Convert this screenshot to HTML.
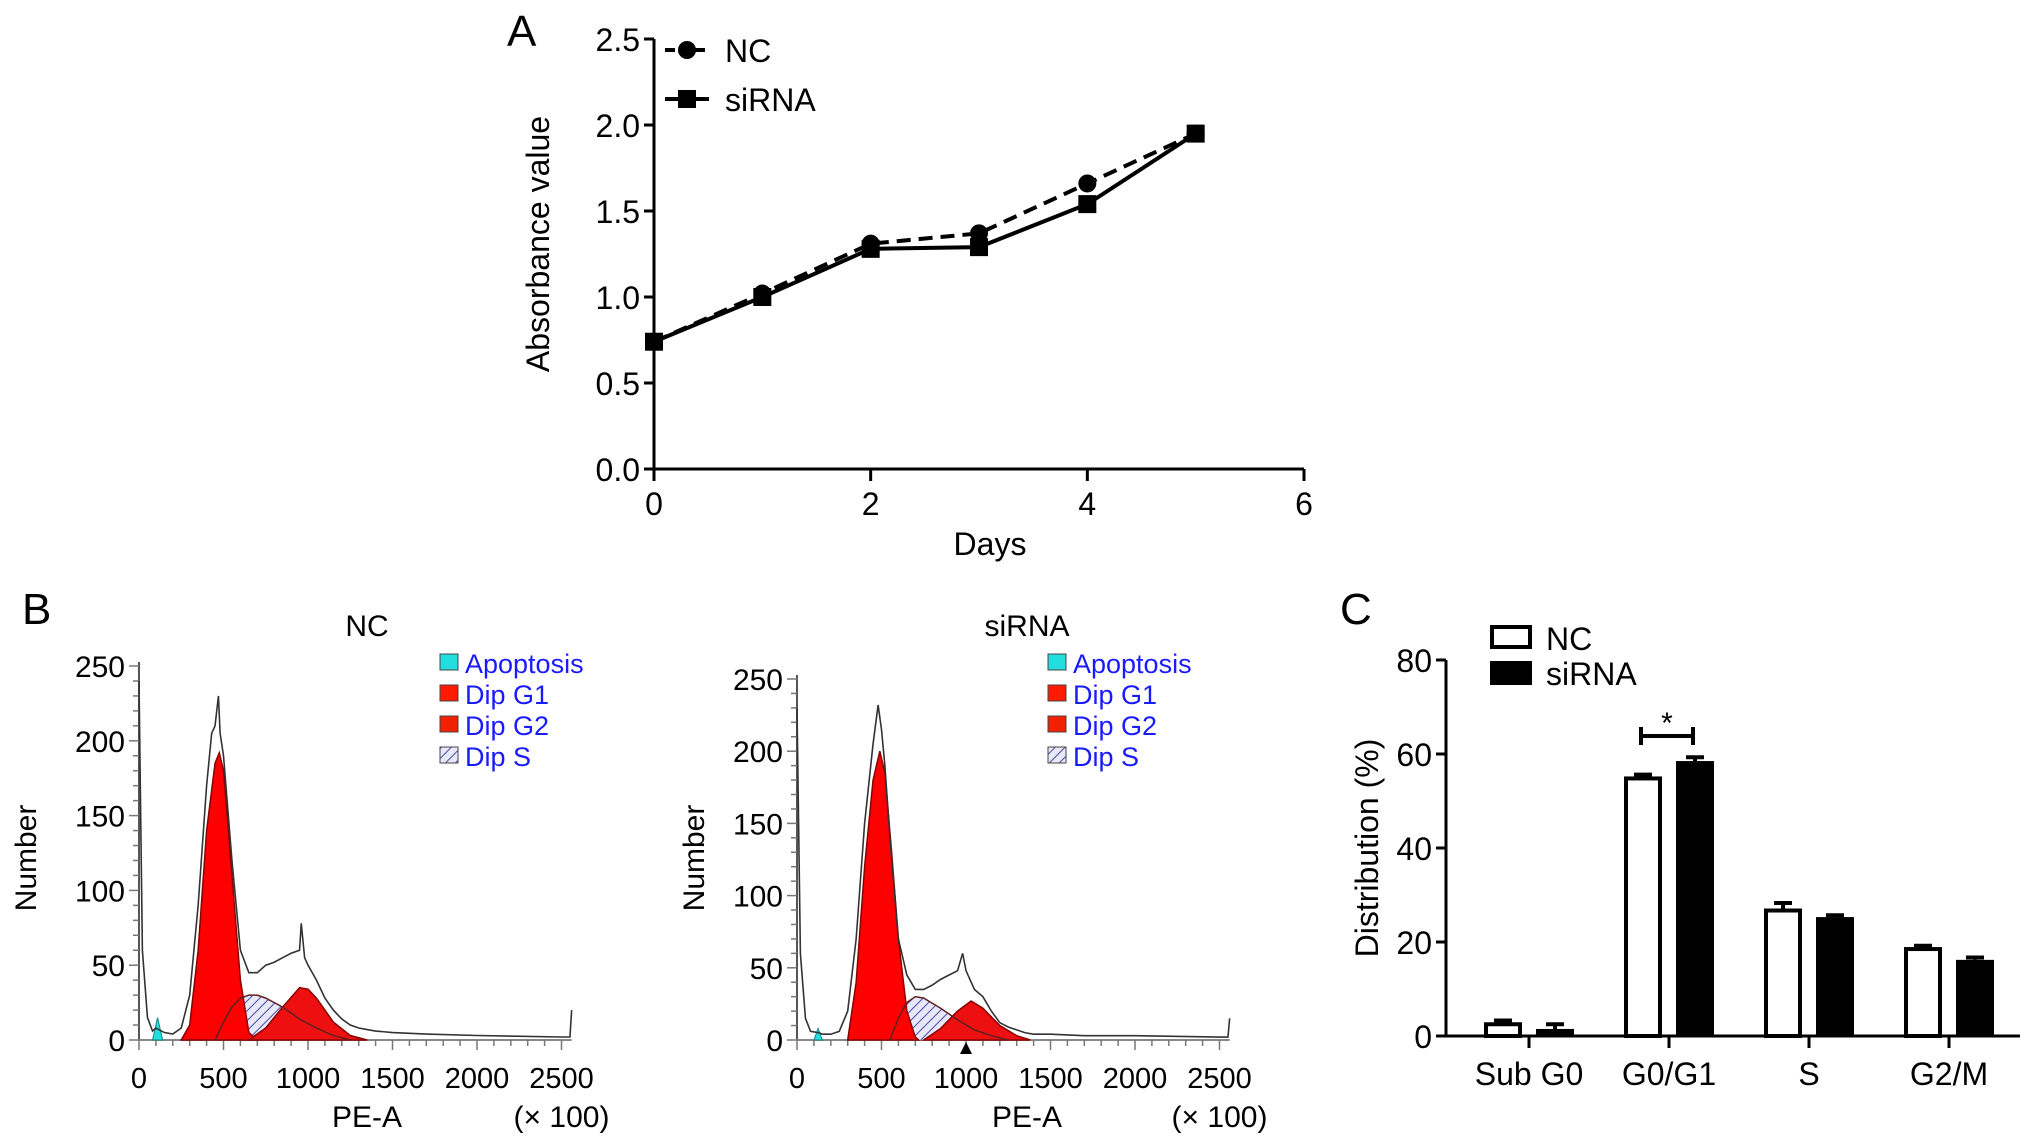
<!DOCTYPE html>
<html><head><meta charset="utf-8">
<style>
html,body{margin:0;padding:0;background:#fff;}
svg{display:block;font-family:"Liberation Sans",Arial,sans-serif;}
</style></head>
<body>
<svg id="fig" width="2032" height="1139" viewBox="0 0 2032 1139" xmlns="http://www.w3.org/2000/svg">
<defs>
<pattern id="hatch" patternUnits="userSpaceOnUse" width="7" height="7" patternTransform="rotate(45)">
<rect width="7" height="7" fill="#e8e8f8"/>
<line x1="0" y1="0" x2="0" y2="7" stroke="#4a4aa8" stroke-width="2"/>
</pattern>
</defs>
<text x="507" y="46" font-size="44">A</text>
<text x="22" y="624" font-size="44">B</text>
<text x="1340" y="624" font-size="44">C</text>
<g id="pa"></g>
<g id="pb1"></g>
<g id="pb2"></g>
<g id="pc"></g>
</svg>
<script>
// ---------- Panel A data ----------
const daysA = [0, 1, 2, 3, 4, 5];
const ncA = [0.74, 1.02, 1.31, 1.37, 1.66, 1.95];
const sirnaA = [0.74, 1.00, 1.28, 1.29, 1.54, 1.95];
const yTicksA = [0, 0.5, 1.0, 1.5, 2.0, 2.5];
const xTicksA = [0, 2, 4, 6];

// ---------- Panel B data (PE-A ×100, counts) ----------
const peNcEnv = [0,20,50,80,100,150,200,250,300,350,400,430,450,470,480,500,550,600,650,700,750,800,850,900,950,960,980,1000,1050,1100,1150,1200,1250,1300,1350,1400,1500,1700,2000,2500,2550,2560];
const cntNcEnv = [240,60,15,6,8,5,4,8,30,90,170,205,210,230,205,190,120,60,45,45,50,52,55,58,60,78,55,50,40,28,20,14,10,8,7,6,5,4,3,2,2,20];
const peNcG1 = [250,300,350,400,450,475,500,550,600,650,700];
const cntNcG1 = [0,10,60,140,185,192,180,110,40,5,0];
const peNcS = [450,500,550,600,650,700,750,850,950,1050,1150,1250];
const cntNcS = [0,12,22,28,30,30,28,22,14,8,3,0];
const peNcG2 = [650,750,850,950,1000,1050,1150,1250,1350];
const cntNcG2 = [0,8,22,35,34,28,12,3,0];
const peNcApo = [80,110,140];
const cntNcApo = [0,15,0];

const peSiEnv = [0,20,50,80,130,150,200,250,300,350,400,450,480,500,520,550,600,650,700,750,800,850,900,950,980,1000,1050,1100,1150,1200,1250,1300,1350,1400,1500,1700,2000,2500,2550,2560];
const cntSiEnv = [230,60,15,6,5,4,4,6,20,70,150,205,232,215,190,140,70,45,35,35,38,42,45,48,60,48,35,30,20,12,9,7,5,4,4,3,3,2,2,15];
const peSiG1 = [300,350,400,450,490,520,560,600,650,700,720];
const cntSiG1 = [0,40,120,180,200,185,130,70,20,2,0];
const peSiS = [550,600,650,700,750,850,950,1050,1150,1250];
const cntSiS = [0,15,26,30,29,22,14,7,3,0];
const peSiG2 = [750,850,950,1030,1100,1200,1300,1380];
const cntSiG2 = [0,8,20,27,22,10,3,0];
const peSiApo = [100,125,150];
const cntSiApo = [0,8,0];

const yTicksB = [0, 50, 100, 150, 200, 250];
const xTicksB = [0, 500, 1000, 1500, 2000, 2500];
const legendB = ["Apoptosis", "Dip G1", "Dip G2", "Dip S"];

// ---------- Panel C data ----------
const phasesC = ["Sub G0", "G0/G1", "S", "G2/M"];
const ncC = [2.5, 54.8, 26.7, 18.5];
const ncErrC = [0.8, 0.8, 1.6, 0.7];
const sirnaC = [1.5, 58.5, 25.3, 16.2];
const sirnaErrC = [1.0, 0.8, 0.4, 0.5];
const yTicksC = [0, 20, 40, 60, 80];

const NS = "http://www.w3.org/2000/svg";
function mk(parent, tag, attrs) {
  const e = document.createElementNS(NS, tag);
  for (const k in attrs) e.setAttribute(k, attrs[k]);
  parent.appendChild(e);
  return e;
}
function txt(parent, x, y, s, size, anchor, extra) {
  const e = mk(parent, "text", Object.assign({x: x, y: y, "font-size": size, "text-anchor": anchor || "start"}, extra || {}));
  e.textContent = s;
  return e;
}

// ================= Panel A =================
(function () {
  const g = document.getElementById("pa");
  const x0 = 654, x1 = 1304, y0 = 469, y1 = 39;
  const xA = d => x0 + d * (x1 - x0) / 6;
  const yA = v => y0 - v * (y0 - y1) / 2.5;
  let el = mk(g, "line", {x1: x0, y1: y1, x2: x0, y2: y0 + 2, stroke: "#000", "stroke-width": 3});
  
  
  el = mk(g, "line", {x1: x0 - 2, y1: y0, x2: x1, y2: y0, stroke: "#000", "stroke-width": 3});
  
  
  yTicksA.forEach(v => {
    mk(g, "line", {x1: x0 - 10, y1: yA(v), x2: x0, y2: yA(v), stroke: "#000", "stroke-width": 3});
    const t = txt(g, x0 - 14, yA(v) + 12, v.toFixed(1), 32, "end");
    
    
  });
  xTicksA.forEach(v => {
    mk(g, "line", {x1: xA(v), y1: y0, x2: xA(v), y2: y0 + 12, stroke: "#000", "stroke-width": 3});
    const t = txt(g, xA(v), 515, String(v), 32, "middle");
    
    
  });
  let t = txt(g, 990, 555, "Days", 32, "middle");
  
  
  t = txt(g, 0, 0, "Absorbance value", 32, "middle", {transform: "translate(549,244) rotate(-90)"});
  
  
  const ptsNc = daysA.map((d, i) => xA(d) + "," + yA(ncA[i])).join(" ");
  const ptsSi = daysA.map((d, i) => xA(d) + "," + yA(sirnaA[i])).join(" ");
  el = mk(g, "polyline", {points: ptsSi, fill: "none", stroke: "#000", "stroke-width": 4});
  
  
  el = mk(g, "polyline", {points: ptsNc, fill: "none", stroke: "#000", "stroke-width": 4, "stroke-dasharray": "14 8"});
  
  
  daysA.forEach((d, i) => {
    const c = mk(g, "circle", {cx: xA(d), cy: yA(ncA[i]), r: 9, fill: "#000"});
    
    
    const s = mk(g, "rect", {x: xA(d) - 9, y: yA(sirnaA[i]) - 9, width: 18, height: 18, fill: "#000"});
    
    
  });
  el = mk(g, "line", {x1: 665, y1: 50, x2: 709, y2: 50, stroke: "#000", "stroke-width": 4, "stroke-dasharray": "10 5"});
  
  
  mk(g, "circle", {cx: 687, cy: 50, r: 9, fill: "#000"});
  t = txt(g, 725, 62, "NC", 32);
  
  
  el = mk(g, "line", {x1: 665, y1: 99, x2: 709, y2: 99, stroke: "#000", "stroke-width": 4});
  
  
  mk(g, "rect", {x: 678, y: 90, width: 18, height: 18, fill: "#000"});
  t = txt(g, 725, 111, "siRNA", 32);
  
  
})();

// ================= Panel B =================
function drawHist(gid, cfg, env, envC, g1, g1C, s, sC, g2, g2C, apo, apoC) {
  const g = document.getElementById(gid);
  const xB = v => cfg.x0 + v * cfg.sx;
  const yB = n => cfg.y0 - n * cfg.sy;
  const poly = (xs, ys) => xs.map((v, i) => xB(v) + "," + yB(ys[i])).join(" ");
  let el = mk(g, "line", {x1: cfg.x0, y1: yB(250) - 4, x2: cfg.x0, y2: cfg.y0, stroke: "#555", "stroke-width": 2});
  
  
  el = mk(g, "line", {x1: cfg.x0, y1: cfg.y0, x2: xB(2560), y2: cfg.y0, stroke: "#888", "stroke-width": 2});
  
  
  for (let n = 0; n <= 250; n += 10) {
    mk(g, "line", {x1: cfg.x0 - (n % 50 === 0 ? 10 : 6), y1: yB(n), x2: cfg.x0, y2: yB(n), stroke: "#777", "stroke-width": 1.5});
  }
  for (let v = 0; v <= 2500; v += 100) {
    mk(g, "line", {x1: xB(v), y1: cfg.y0, x2: xB(v), y2: cfg.y0 + (v % 500 === 0 ? 10 : 6), stroke: "#777", "stroke-width": 1.5});
  }
  yTicksB.forEach(n => {
    const t = txt(g, cfg.x0 - 14, yB(n) + 11, String(n), 30, "end");
    
    
  });
  xTicksB.forEach(v => {
    const t = txt(g, xB(v), 1088, String(v), 29, "middle");
    
    
  });
  let t = txt(g, cfg.title_x, 636, cfg.title, 30, "middle");
  
  
  t = txt(g, cfg.title_x, 1127, "PE-A", 30, "middle");
  
  
  t = txt(g, xB(2500), 1127, "(× 100)", 30, "middle");
  
  
  t = txt(g, 0, 0, "Number", 30, "middle", {transform: "translate(" + cfg.ylab_x + ",858) rotate(-90)"});
  
  
  el = mk(g, "polygon", {points: poly(apo, apoC), fill: "#22dede", stroke: "#188", "stroke-width": 1});
  
  
  el = mk(g, "polygon", {points: poly(s, sC), fill: "url(#hatch)", stroke: "none"});
  
  
  el = mk(g, "polygon", {points: poly(g1, g1C), fill: "#ff0000", stroke: "#8a0000", "stroke-width": 1.5});
  
  
  el = mk(g, "polygon", {points: poly(g2, g2C), fill: "#ee1010", stroke: "#8a0000", "stroke-width": 1.5});
  
  
  el = mk(g, "polyline", {points: poly(s, sC), fill: "none", stroke: "#602020", "stroke-width": 1.5});
  
  
  el = mk(g, "polyline", {points: poly(env, envC), fill: "none", stroke: "#333", "stroke-width": 1.6});
  
  
  const cols = ["#22dede", "#ff1a00", "#ee2200", "url(#hatch)"];
  legendB.forEach((name, i) => {
    const cy = 663 + i * 31;
    const r = mk(g, "rect", {x: cfg.leg_x, y: cy - 9, width: 18, height: 16, fill: cols[i], stroke: "#444", "stroke-width": 1});
    
    
    const lt = txt(g, cfg.leg_x + 25, cy + 10, name, 27, "start", {fill: "#1a1aff"});
    
    
  });
  if (cfg.arrow) {
    const a = mk(g, "polygon", {points: (xB(1000) - 6) + "," + (cfg.y0 + 14) + " " + (xB(1000) + 6) + "," + (cfg.y0 + 14) + " " + xB(1000) + "," + (cfg.y0 + 2), fill: "#000"});
    
    
  }
}
drawHist("pb1", {x0: 139, sx: 0.169, y0: 1040, sy: 1.496, title: "NC", title_x: 367, ylab_x: 36, leg_x: 440, arrow: false},
  peNcEnv, cntNcEnv, peNcG1, cntNcG1, peNcS, cntNcS, peNcG2, cntNcG2, peNcApo, cntNcApo);
drawHist("pb2", {x0: 797, sx: 0.169, y0: 1040, sy: 1.444, title: "siRNA", title_x: 1027, ylab_x: 704, leg_x: 1048, arrow: true},
  peSiEnv, cntSiEnv, peSiG1, cntSiG1, peSiS, cntSiS, peSiG2, cntSiG2, peSiApo, cntSiApo);

// ================= Panel C =================
(function () {
  const g = document.getElementById("pc");
  const x0 = 1446, xEnd = 2020, y0 = 1036, yTop = 660;
  const yC = v => y0 - v * (y0 - yTop) / 80;
  const xCat = i => 1529 + i * 140;
  const bw = 38, gap = 14;
  let el = mk(g, "line", {x1: x0, y1: yTop, x2: x0, y2: y0, stroke: "#000", "stroke-width": 3});
  
  
  el = mk(g, "line", {x1: x0 - 10, y1: y0, x2: xEnd, y2: y0, stroke: "#000", "stroke-width": 3});
  
  
  yTicksC.forEach(v => {
    mk(g, "line", {x1: x0 - 10, y1: yC(v), x2: x0, y2: yC(v), stroke: "#000", "stroke-width": 3});
    const t = txt(g, x0 - 14, yC(v) + 12, String(v), 32, "end");
    
    
  });
  phasesC.forEach((p, i) => {
    mk(g, "line", {x1: xCat(i), y1: y0, x2: xCat(i), y2: y0 + 12, stroke: "#000", "stroke-width": 3});
    const t = txt(g, xCat(i), 1085, p, 32, "middle");
    
    
    const nx = xCat(i) - gap / 2 - bw;
    const eb1 = mk(g, "path", {d: "M" + (nx + bw / 2) + "," + yC(ncC[i]) + "V" + yC(ncC[i] + ncErrC[i]) + "M" + (nx + bw / 2 - 9) + "," + yC(ncC[i] + ncErrC[i]) + "h18", stroke: "#000", "stroke-width": 4, fill: "none"});
    
    
    const b1 = mk(g, "rect", {x: nx + 2, y: yC(ncC[i]), width: bw - 4, height: y0 - yC(ncC[i]), fill: "#fff", stroke: "#000", "stroke-width": 4});
    
    
    const sx = xCat(i) + gap / 2;
    const eb2 = mk(g, "path", {d: "M" + (sx + bw / 2) + "," + yC(sirnaC[i]) + "V" + yC(sirnaC[i] + sirnaErrC[i]) + "M" + (sx + bw / 2 - 9) + "," + yC(sirnaC[i] + sirnaErrC[i]) + "h18", stroke: "#000", "stroke-width": 4, fill: "none"});
    
    
    const b2 = mk(g, "rect", {x: sx, y: yC(sirnaC[i]), width: bw, height: y0 - yC(sirnaC[i]), fill: "#000"});
    
    
  });
  const bx1 = xCat(1) - gap / 2 - bw / 2 - 2, bx2 = xCat(1) + gap / 2 + bw / 2 - 2, by = 736;
  el = mk(g, "path", {d: "M" + bx1 + "," + (by - 9) + "V" + (by + 9) + "M" + bx1 + "," + by + "H" + bx2 + "M" + bx2 + "," + (by - 9) + "V" + (by + 9), stroke: "#000", "stroke-width": 4, fill: "none"});
  
  
  let t = txt(g, (bx1 + bx2) / 2, 733, "*", 30, "middle");
  
  
  t = txt(g, 0, 0, "Distribution (%)", 32, "middle", {transform: "translate(1378,848) rotate(-90)"});
  
  
  el = mk(g, "rect", {x: 1492, y: 627, width: 38, height: 20, fill: "#fff", stroke: "#000", "stroke-width": 4});
  
  
  t = txt(g, 1546, 650, "NC", 32);
  
  
  el = mk(g, "rect", {x: 1490, y: 661, width: 42, height: 24, fill: "#000"});
  
  
  t = txt(g, 1546, 685, "siRNA", 32);
  
  
})();
</script>
</body></html>
